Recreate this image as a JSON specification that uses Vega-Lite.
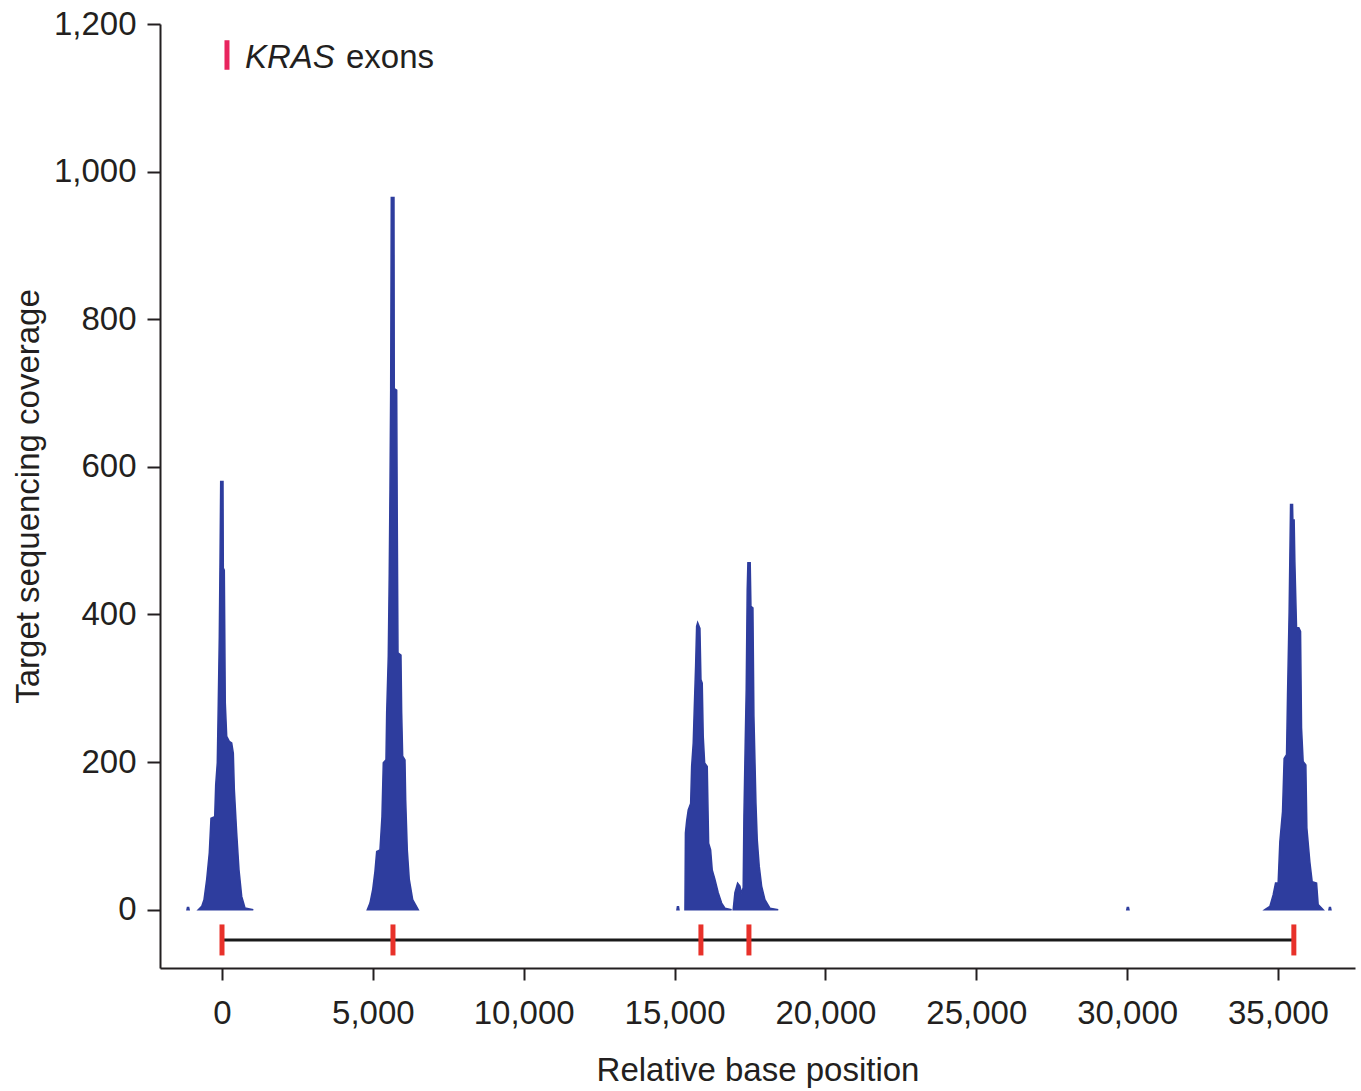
{
  "$schema": "https://vega.github.io/schema/vega-lite/v6.json",
  "width": 1195,
  "height": 944,
  "autosize": {"type": "none"},
  "padding": {"left": 160, "top": 24, "right": 6, "bottom": 123},
  "background": "white",
  "config": {
    "view": {"stroke": null},
    "font": "Liberation Sans",
    "axis": {
      "grid": false,
      "domainColor": "#231F20",
      "domainWidth": 2,
      "tickColor": "#231F20",
      "tickWidth": 2,
      "labelFontSize": 33,
      "titleFontSize": 33,
      "titleFontWeight": "normal",
      "labelColor": "#231F20",
      "titleColor": "#231F20",
      "labelFont": "Liberation Sans",
      "titleFont": "Liberation Sans",
      "labelFlush": false
    }
  },
  "datasets": {
    "coverage": [
      {"peak": "d1", "x": -1160, "y": 0}, {"peak": "d1", "x": -1145, "y": 3}, {"peak": "d1", "x": -1105, "y": 3}, {"peak": "d1", "x": -1090, "y": 0},
      {"peak": "p1", "x": -786, "y": 0}, {"peak": "p1", "x": -673, "y": 4.5}, {"peak": "p1", "x": -597, "y": 13.5}, {"peak": "p1", "x": -507, "y": 41}, {"peak": "p1", "x": -421, "y": 77}, {"peak": "p1", "x": -365, "y": 124}, {"peak": "p1", "x": -242, "y": 126}, {"peak": "p1", "x": -209, "y": 169}, {"peak": "p1", "x": -156, "y": 199}, {"peak": "p1", "x": -123, "y": 280}, {"peak": "p1", "x": -89, "y": 370}, {"peak": "p1", "x": -66, "y": 470}, {"peak": "p1", "x": -43, "y": 580}, {"peak": "p1", "x": 33, "y": 580}, {"peak": "p1", "x": 43, "y": 463}, {"peak": "p1", "x": 76, "y": 460}, {"peak": "p1", "x": 109, "y": 280}, {"peak": "p1", "x": 156, "y": 235}, {"peak": "p1", "x": 242, "y": 228}, {"peak": "p1", "x": 321, "y": 226}, {"peak": "p1", "x": 375, "y": 212}, {"peak": "p1", "x": 408, "y": 163}, {"peak": "p1", "x": 487, "y": 104}, {"peak": "p1", "x": 563, "y": 54}, {"peak": "p1", "x": 653, "y": 18}, {"peak": "p1", "x": 762, "y": 2.3}, {"peak": "p1", "x": 1037, "y": 0},
      {"peak": "p2", "x": 4815, "y": 0}, {"peak": "p2", "x": 4905, "y": 9}, {"peak": "p2", "x": 4994, "y": 27}, {"peak": "p2", "x": 5070, "y": 52}, {"peak": "p2", "x": 5127, "y": 79}, {"peak": "p2", "x": 5236, "y": 81}, {"peak": "p2", "x": 5302, "y": 126}, {"peak": "p2", "x": 5346, "y": 199}, {"peak": "p2", "x": 5435, "y": 203}, {"peak": "p2", "x": 5458, "y": 266}, {"peak": "p2", "x": 5511, "y": 343}, {"peak": "p2", "x": 5544, "y": 456}, {"peak": "p2", "x": 5568, "y": 569}, {"peak": "p2", "x": 5591, "y": 704}, {"peak": "p2", "x": 5611, "y": 965}, {"peak": "p2", "x": 5700, "y": 965}, {"peak": "p2", "x": 5710, "y": 706}, {"peak": "p2", "x": 5790, "y": 704}, {"peak": "p2", "x": 5809, "y": 524}, {"peak": "p2", "x": 5833, "y": 348}, {"peak": "p2", "x": 5932, "y": 345}, {"peak": "p2", "x": 5955, "y": 267}, {"peak": "p2", "x": 5988, "y": 208}, {"peak": "p2", "x": 6065, "y": 203}, {"peak": "p2", "x": 6088, "y": 149}, {"peak": "p2", "x": 6141, "y": 81}, {"peak": "p2", "x": 6207, "y": 41}, {"peak": "p2", "x": 6320, "y": 13.5}, {"peak": "p2", "x": 6505, "y": 0},
      {"peak": "d2", "x": 15080, "y": 0}, {"peak": "d2", "x": 15095, "y": 4}, {"peak": "d2", "x": 15130, "y": 4}, {"peak": "d2", "x": 15145, "y": 0},
      {"peak": "p3", "x": 15344, "y": 0}, {"peak": "p3", "x": 15360, "y": 104}, {"peak": "p3", "x": 15400, "y": 120}, {"peak": "p3", "x": 15453, "y": 135}, {"peak": "p3", "x": 15533, "y": 144}, {"peak": "p3", "x": 15566, "y": 194}, {"peak": "p3", "x": 15619, "y": 226}, {"peak": "p3", "x": 15652, "y": 271}, {"peak": "p3", "x": 15698, "y": 330}, {"peak": "p3", "x": 15731, "y": 384}, {"peak": "p3", "x": 15765, "y": 389}, {"peak": "p3", "x": 15841, "y": 381}, {"peak": "p3", "x": 15874, "y": 312}, {"peak": "p3", "x": 15917, "y": 307}, {"peak": "p3", "x": 15950, "y": 235}, {"peak": "p3", "x": 15997, "y": 199}, {"peak": "p3", "x": 16083, "y": 194}, {"peak": "p3", "x": 16129, "y": 90}, {"peak": "p3", "x": 16195, "y": 81}, {"peak": "p3", "x": 16248, "y": 54}, {"peak": "p3", "x": 16338, "y": 41}, {"peak": "p3", "x": 16447, "y": 23}, {"peak": "p3", "x": 16560, "y": 9}, {"peak": "p3", "x": 16669, "y": 2}, {"peak": "p3", "x": 16891, "y": 0},
      {"peak": "p4", "x": 16944, "y": 0}, {"peak": "p4", "x": 17000, "y": 23}, {"peak": "p4", "x": 17090, "y": 36}, {"peak": "p4", "x": 17166, "y": 32}, {"peak": "p4", "x": 17222, "y": 22}, {"peak": "p4", "x": 17275, "y": 30}, {"peak": "p4", "x": 17299, "y": 126}, {"peak": "p4", "x": 17342, "y": 226}, {"peak": "p4", "x": 17375, "y": 298}, {"peak": "p4", "x": 17408, "y": 433}, {"peak": "p4", "x": 17431, "y": 470}, {"peak": "p4", "x": 17507, "y": 470}, {"peak": "p4", "x": 17531, "y": 411}, {"peak": "p4", "x": 17597, "y": 409}, {"peak": "p4", "x": 17630, "y": 262}, {"peak": "p4", "x": 17697, "y": 145}, {"peak": "p4", "x": 17740, "y": 95}, {"peak": "p4", "x": 17806, "y": 59}, {"peak": "p4", "x": 17886, "y": 32}, {"peak": "p4", "x": 17995, "y": 13.5}, {"peak": "p4", "x": 18161, "y": 2}, {"peak": "p4", "x": 18436, "y": 0},
      {"peak": "d3", "x": 29990, "y": 0}, {"peak": "d3", "x": 30005, "y": 3}, {"peak": "d3", "x": 30045, "y": 3}, {"peak": "d3", "x": 30060, "y": 0},
      {"peak": "p5", "x": 34565, "y": 0}, {"peak": "p5", "x": 34731, "y": 4.5}, {"peak": "p5", "x": 34840, "y": 20}, {"peak": "p5", "x": 34920, "y": 36}, {"peak": "p5", "x": 35006, "y": 36}, {"peak": "p5", "x": 35062, "y": 92}, {"peak": "p5", "x": 35151, "y": 133}, {"peak": "p5", "x": 35204, "y": 205}, {"peak": "p5", "x": 35284, "y": 210}, {"peak": "p5", "x": 35317, "y": 291}, {"peak": "p5", "x": 35370, "y": 404}, {"peak": "p5", "x": 35417, "y": 549}, {"peak": "p5", "x": 35483, "y": 549}, {"peak": "p5", "x": 35493, "y": 528}, {"peak": "p5", "x": 35536, "y": 528}, {"peak": "p5", "x": 35559, "y": 472}, {"peak": "p5", "x": 35615, "y": 382}, {"peak": "p5", "x": 35691, "y": 382}, {"peak": "p5", "x": 35748, "y": 377}, {"peak": "p5", "x": 35781, "y": 246}, {"peak": "p5", "x": 35834, "y": 201}, {"peak": "p5", "x": 35924, "y": 196}, {"peak": "p5", "x": 35957, "y": 111}, {"peak": "p5", "x": 36056, "y": 65}, {"peak": "p5", "x": 36133, "y": 38}, {"peak": "p5", "x": 36279, "y": 36}, {"peak": "p5", "x": 36332, "y": 7}, {"peak": "p5", "x": 36498, "y": 0},
      {"peak": "d4", "x": 36690, "y": 0}, {"peak": "d4", "x": 36705, "y": 3}, {"peak": "d4", "x": 36740, "y": 3}, {"peak": "d4", "x": 36755, "y": 0}
    ],
    "exons": [
      {"x": 0, "y": -20, "y2": -62},
      {"x": 5667, "y": -20, "y2": -62},
      {"x": 15874, "y": -20, "y2": -62},
      {"x": 17465, "y": -20, "y2": -62},
      {"x": 35526, "y": -20, "y2": -62}
    ],
    "gene": [
      {"x": 0, "x2": 35526, "y": -41}
    ],
    "legend": [
      {"x": 165, "y": 1138, "y2": 1178, "tx": 762, "tx2": 4110, "ty": 1140}
    ]
  },
  "layer": [
    {
      "data": {"name": "coverage"},
      "mark": {"type": "area", "color": "#2E3D9E", "stroke": "#2E3D9E", "strokeWidth": 1.5, "strokeJoin": "miter", "interpolate": "linear"},
      "encoding": {
        "x": {
          "field": "x", "type": "quantitative",
          "scale": {"domain": [-2055, 37553], "nice": false, "zero": false},
          "axis": {"title": "Relative base position", "values": [0, 5000, 10000, 15000, 20000, 25000, 30000, 35000], "format": ",.0f", "tickSize": 12, "labelPadding": 17, "titlePadding": 24}
        },
        "y": {
          "field": "y", "type": "quantitative",
          "scale": {"domain": [-79, 1200], "nice": false, "zero": false},
          "axis": {"title": "Target sequencing coverage", "values": [0, 200, 400, 600, 800, 1000, 1200], "format": ",.0f", "tickSize": 13, "labelPadding": 11, "titlePadding": 8}
        },
        "y2": {"datum": 0},
        "detail": {"field": "peak", "type": "nominal"}
      }
    },
    {
      "data": {"name": "gene"},
      "mark": {"type": "rule", "color": "#1A1A1A", "strokeWidth": 3},
      "encoding": {
        "x": {"field": "x", "type": "quantitative"},
        "x2": {"field": "x2"},
        "y": {"field": "y", "type": "quantitative"}
      }
    },
    {
      "data": {"name": "exons"},
      "mark": {"type": "rule", "color": "#E8312A", "strokeWidth": 5},
      "encoding": {
        "x": {"field": "x", "type": "quantitative"},
        "y": {"field": "y", "type": "quantitative"},
        "y2": {"field": "y2"}
      }
    },
    {
      "data": {"name": "legend"},
      "mark": {"type": "rule", "color": "#E8245E", "strokeWidth": 5},
      "encoding": {
        "x": {"field": "x", "type": "quantitative"},
        "y": {"field": "y", "type": "quantitative"},
        "y2": {"field": "y2"}
      }
    },
    {
      "data": {"name": "legend"},
      "mark": {"type": "text", "text": "KRAS", "fontStyle": "italic", "fontSize": 33, "align": "left", "baseline": "alphabetic", "color": "#231F20", "font": "Liberation Sans"},
      "encoding": {
        "x": {"field": "tx", "type": "quantitative"},
        "y": {"field": "ty", "type": "quantitative"}
      }
    },
    {
      "data": {"name": "legend"},
      "mark": {"type": "text", "text": "exons", "fontSize": 33, "align": "left", "baseline": "alphabetic", "color": "#231F20", "font": "Liberation Sans"},
      "encoding": {
        "x": {"field": "tx2", "type": "quantitative"},
        "y": {"field": "ty", "type": "quantitative"}
      }
    }
  ]
}
